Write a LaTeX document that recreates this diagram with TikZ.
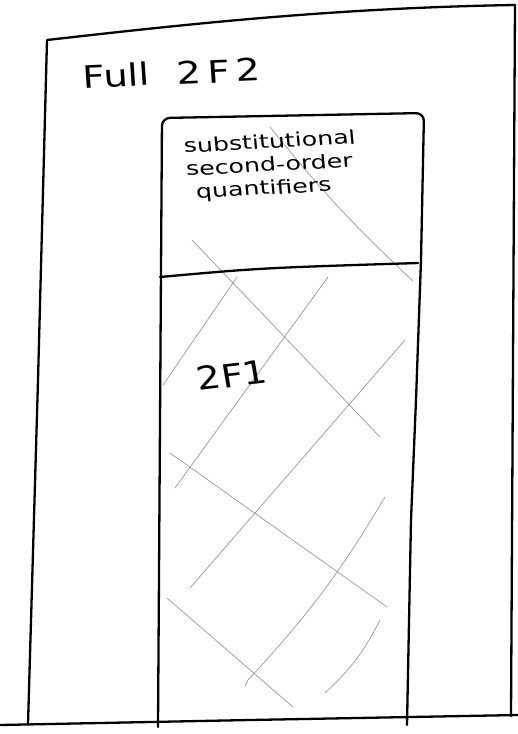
\documentclass[tikz,border=0pt]{standalone}
\usepackage{fontspec}
\setmainfont{DejaVu Sans}
\begin{document}
\begin{tikzpicture}[x=1pt,y=-1pt, line cap=round, line join=round,
  frame/.style={line width=2.3pt, black},
  hatch/.style={line width=0.7pt, black!40},
  hand/.style={inner sep=0pt, align=left}]
\useasboundingbox (0,0) rectangle (518,734);
\fill[white] (0,0) rectangle (518,734);
% outer frame
\draw[frame] (28,724) -- (38,380) -- (47,40) .. controls (180,25) and (330,8) .. (515,5) -- (513,360) -- (511,716);
\draw[frame] (0,725) -- (250,720) -- (518,715);
% hatching
\draw[hatch] (270,127) to[bend right=4] (413,281);
\draw[hatch] (192,240) -- (380,437);
\draw[hatch] (170,453) -- (387,607);
\draw[hatch] (167,598) -- (293,707);
\draw[hatch] (237,277) -- (163,385);
\draw[hatch] (328,277) -- (175,488);
\draw[hatch] (405,340) -- (190,588);
\draw[hatch] (385,497) to[bend left=6] (248,680) -- (245,686);
\draw[hatch] (380,620) to[bend left=10] (325,693);
% inner box
\draw[frame, rounded corners=8pt] (158,727) -- (162,118) -- (424,113) -- (421,260) -- (416,400) -- (411,520) -- (407,725);
\draw[frame] (160,277) .. controls (260,268) .. (418,263);
% texts
\node[hand, font=\fontsize{31}{34}\selectfont, xscale=1.25, rotate=3] (full) at (172,73) {Full\hspace{22pt}2\hspace{5pt}F\hspace{5pt}2};
\node[hand, font=\fontsize{19}{23}\selectfont, xscale=1.33, rotate=4] (subst) at (272,166) {substitutional\\second-order\\\hspace{6pt}quantifiers};
\node[hand, font=\fontsize{32}{36}\selectfont, xscale=1.2, rotate=8] (twoFone) at (232,375) {2F1};
\end{tikzpicture}
\end{document}
